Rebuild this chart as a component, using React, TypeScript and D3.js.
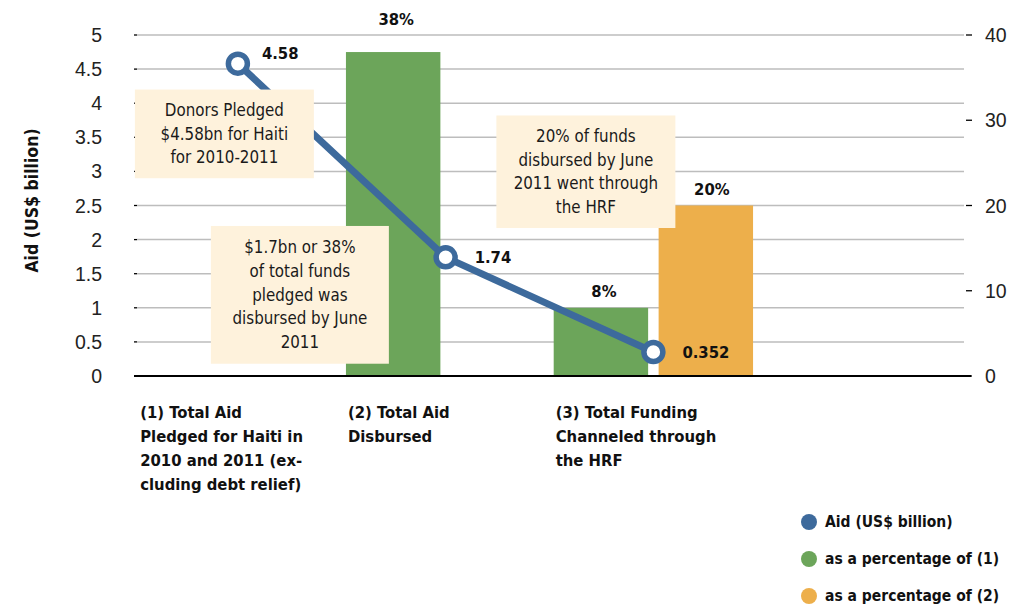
import React from 'react';
import * as d3 from 'd3';

// categories (4th slot is an empty band)
const categories = ['c1', 'c2', 'c3', 'c4'];
const categoryLabels = [
  ['(1) Total Aid', 'Pledged for Haiti in', '2010 and 2011 (ex-', 'cluding debt relief)'],
  ['(2) Total Aid', 'Disbursed'],
  ['(3) Total Funding', 'Channeled through', 'the HRF'],
  [],
];
const aidValues = [4.58, 1.74, 0.352];
const aidLabels = ['4.58', '1.74', '0.352'];
const pctOf1 = [null, 38, 8, null];
const pctOf2 = [null, null, 20, null];
const leftTicks = [0, 0.5, 1, 1.5, 2, 2.5, 3, 3.5, 4, 4.5, 5];
const rightTicks = [0, 10, 20, 30, 40];

const notes = [
  { lines: ['Donors Pledged', '$4.58bn for Haiti', 'for 2010-2011'], cat: 0, y0: 4.2, y1: 2.9, dx0: -103, dx1: 76 },
  { lines: ['$1.7bn or 38%', 'of total funds', 'pledged was', 'disbursed by June', '2011'], cat: 0, y0: 2.2, y1: 0.18, dx0: -27, dx1: 151 },
  { lines: ['20% of funds', 'disbursed by June', '2011 went through', 'the HRF'], cat: 2, y0: 3.82, y1: 2.17, dx0: -157, dx1: 22 },
];

const legendItems = [
  { label: 'Aid (US$ billion)', color: '#3d6a9c' },
  { label: 'as a percentage of (1)', color: '#6ca55a' },
  { label: 'as a percentage of (2)', color: '#edaf4b' },
];

const W = 1018;
const H = 610;
const m = { l: 134, r: 53, t: 35, b: 234 };

const App = () => {
  const x = d3.scaleBand<string>().domain(categories).range([m.l, W - m.r]);
  const sub = d3.scaleBand<string>().domain(['p1', 'p2']).range([0, x.bandwidth()]).paddingInner(0.1).paddingOuter(0.04);
  const y = d3.scaleLinear().domain([0, 5]).range([H - m.b, m.t]);
  const yr = d3.scaleLinear().domain([0, 40]).range([H - m.b, m.t]);

  const cx = (i: number) => (x(categories[i]) as number) + x.bandwidth() / 2;
  const linePath = d3.line<number>().x((_, i) => cx(i)).y(d => y(d))(aidValues) || '';

  const narrow = '"DejaVu Sans Condensed", "DejaVu Sans", sans-serif';
  const plain = '"Liberation Sans", Arial, sans-serif';
  const blue = legendItems[0].color;

  // bar labels near the top of the axis get lifted above it
  const barLabelY = (v: number) => yr(v) - 11 - (v > 35 ? 16 : 0);

  return (
    <svg width={W} height={H} style={{ position: 'absolute', left: 0, top: 0, background: '#fff' }}>
      {/* grid */}
      {leftTicks.filter(t => t > 0).map(t => (
        <line key={t} x1={m.l + 3} x2={W - m.r - 1} y1={y(t)} y2={y(t)} stroke="#bdbdbd" strokeWidth={1.5} />
      ))}
      {leftTicks.map(t => (
        <g key={'l' + t}>
          <line x1={m.l} x2={m.l + 3} y1={y(t)} y2={y(t)} stroke="#000" strokeWidth={1.3} />
          <text x={102} y={y(t)} dy="0.36em" textAnchor="end" fontFamily={plain} fontSize={19.5} fill="#222">{t}</text>
        </g>
      ))}
      {rightTicks.map(t => (
        <g key={'r' + t}>
          <line x1={W - m.r + 1} x2={W - m.r + 7} y1={yr(t)} y2={yr(t)} stroke="#000" strokeWidth={1.3} />
          <text x={985} y={yr(t)} dy="0.36em" textAnchor="start" fontFamily={plain} fontSize={19.5} fill="#222">{t}</text>
        </g>
      ))}
      <text transform={`translate(38, ${(y(0) + y(5)) / 2 - 5}) rotate(-90)`} textAnchor="middle" fontFamily={narrow} fontWeight="bold" fontSize={17.5} fill="#111">Aid (US$ billion)</text>

      {/* bars */}
      {categories.map((c, i) => (
        <g key={c}>
          {pctOf1[i] != null && (
            <g>
              <rect x={(x(c) as number) + (sub('p1') as number)} width={sub.bandwidth()} y={yr(pctOf1[i] as number)} height={yr(0) - yr(pctOf1[i] as number)} fill={legendItems[1].color} />
              <text x={(x(c) as number) + (sub('p1') as number) + sub.bandwidth() / 2 + 3} y={barLabelY(pctOf1[i] as number)} textAnchor="middle" fontFamily={narrow} fontWeight="bold" fontSize={16.5} fill="#111">{pctOf1[i]}%</text>
            </g>
          )}
          {pctOf2[i] != null && (
            <g>
              <rect x={(x(c) as number) + (sub('p2') as number)} width={sub.bandwidth()} y={yr(pctOf2[i] as number)} height={yr(0) - yr(pctOf2[i] as number)} fill={legendItems[2].color} />
              <text x={(x(c) as number) + (sub('p2') as number) + sub.bandwidth() / 2 + 6} y={barLabelY(pctOf2[i] as number)} textAnchor="middle" fontFamily={narrow} fontWeight="bold" fontSize={16.5} fill="#111">{pctOf2[i]}%</text>
            </g>
          )}
        </g>
      ))}

      {/* aid line (boxes sit on top of it) */}
      <path d={linePath} fill="none" stroke={blue} strokeWidth={7} />

      {/* annotation boxes */}
      {notes.map((n, k) => {
        const x0 = cx(n.cat) + n.dx0;
        const x1 = cx(n.cat) + n.dx1;
        const y0 = y(n.y0);
        const y1 = y(n.y1);
        const mid = (x0 + x1) / 2;
        const lh = 23.7;
        const start = (y0 + y1) / 2 - ((n.lines.length - 1) * lh) / 2;
        return (
          <g key={k}>
            <rect x={x0} y={y0} width={x1 - x0} height={y1 - y0} fill="#fef2dc" />
            {n.lines.map((l, j) => (
              <text key={j} x={mid} y={start + j * lh} dy="0.35em" textAnchor="middle" fontFamily={narrow} fontSize={16.8} fill="#1a1a1a">{l}</text>
            ))}
          </g>
        );
      })}

      {/* baseline */}
      <line x1={m.l} x2={W - m.r + 6} y1={y(0)} y2={y(0)} stroke="#000" strokeWidth={2} />

      {/* aid points */}
      {aidValues.map((v, i) => (
        <g key={i}>
          <circle cx={cx(i)} cy={y(v)} r={9.5} fill="#fff" stroke={blue} strokeWidth={5.5} />
          <text x={cx(i) + (i === 0 ? 24 : 29)} y={y(v) + (i === 0 ? -10 : 0)} dy="0.35em" fontFamily={narrow} fontWeight="bold" fontSize={16.5} fill="#111">{aidLabels[i]}</text>
        </g>
      ))}

      {/* category labels */}
      {categories.map((c, i) => (
        <text key={c} fontFamily={narrow} fontWeight="bold" fontSize={16.5} fill="#111">
          {categoryLabels[i].map((l, j) => (
            <tspan key={j} x={(x(c) as number) + (sub('p1') as number) + 2} y={418 + j * 24}>{l}</tspan>
          ))}
        </text>
      ))}

      {/* legend */}
      {legendItems.map((d, i) => (
        <g key={d.label} transform={`translate(809, ${522 + i * 37})`}>
          <circle r={8} fill={d.color} />
          <text x={16} dy="0.35em" fontFamily={narrow} fontWeight="bold" fontSize={15.5} fill="#111">{d.label}</text>
        </g>
      ))}
    </svg>
  );
};

export default App;
